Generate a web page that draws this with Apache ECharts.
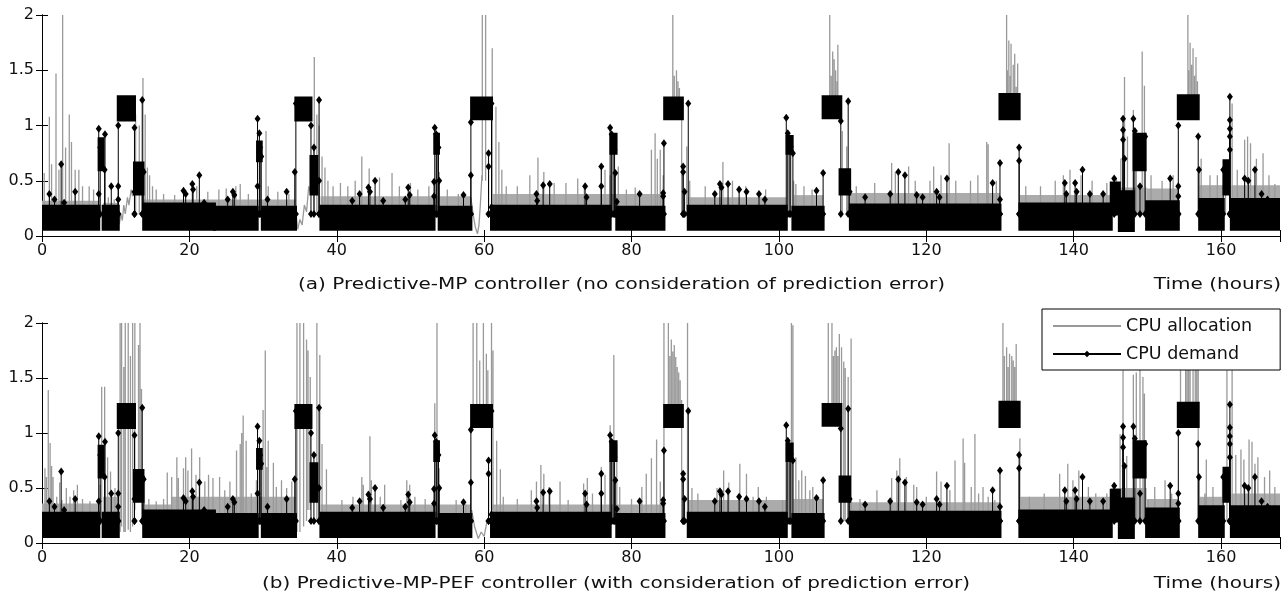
<!DOCTYPE html>
<html><head><meta charset="utf-8">
<script src="https://cdn.jsdelivr.net/npm/echarts@6/dist/echarts.min.js"></script>
<style>html,body{margin:0;padding:0;background:#fff}#c{width:1288px;height:599px}</style>
</head><body><div id="c"></div>
<script>
// ---------- DATA (time in hours, CPU in cores) ----------
const xTickValues = [0, 20, 40, 60, 80, 100, 120, 140, 160];
const yTickValues = [0, 0.5, 1, 1.5, 2];

// CPU demand: dense oscillation bands [start, end, low, high] (same in both panels)
const demandBands = [
  [0.0, 7.7, 0.06, 0.27], [7.75, 8.3, 0.6, 0.88], [8.3, 10.35, 0.06, 0.27],
  [10.35, 12.55, 1.05, 1.26], [12.55, 13.7, 0.38, 0.66], [13.8, 23.4, 0.06, 0.29],
  [23.4, 29.2, 0.06, 0.26], [29.25, 29.75, 0.68, 0.85], [29.9, 34.4, 0.06, 0.26],
  [34.45, 36.5, 1.05, 1.25], [36.5, 37.3, 0.38, 0.72], [37.85, 53.2, 0.06, 0.27],
  [53.3, 53.8, 0.75, 0.92], [53.9, 58.2, 0.06, 0.26], [58.3, 61.0, 1.06, 1.25],
  [61.0, 77.1, 0.06, 0.27], [77.2, 77.9, 0.75, 0.92], [78.0, 84.4, 0.06, 0.26],
  [84.5, 86.9, 1.06, 1.25], [87.7, 101.0, 0.06, 0.27], [101.1, 101.8, 0.75, 0.9],
  [101.9, 106.0, 0.06, 0.26], [106.0, 108.4, 1.07, 1.26], [108.3, 109.6, 0.38, 0.6],
  [109.7, 130.0, 0.06, 0.28], [130.0, 132.6, 1.06, 1.28], [132.7, 145.1, 0.06, 0.29],
  [145.1, 146.2, 0.2, 0.48], [146.2, 148.1, 0.05, 0.4], [148.2, 149.7, 0.6, 0.92],
  [149.9, 154.2, 0.06, 0.31], [154.2, 156.9, 1.06, 1.27], [157.1, 160.3, 0.06, 0.33],
  [160.4, 161.0, 0.38, 0.68], [161.4, 168.0, 0.06, 0.33]
];
// CPU demand: individual excursions [time, value]
const demandSpikes = [
  [1.0,0.38],[1.7,0.33],[2.6,0.65],[3.0,0.3],[4.5,0.40],[7.7,0.38],[7.7,0.97],[7.9,0.8],[8.55,0.92],[8.5,0.6],
  [9.4,0.45],[10.35,0.33],[10.35,0.45],[10.35,1.0],[12.55,0.98],[12.55,0.4],[13.6,1.23],[13.6,0.6],[13.8,0.58],
  [19.2,0.41],[19.5,0.38],[20.4,0.47],[20.5,0.42],[21.35,0.55],[22.0,0.3],[25.2,0.33],[25.9,0.40],[26.1,0.37],
  [29.25,1.06],[29.25,0.45],[29.5,0.93],[29.6,0.8],[29.75,0.72],[30.6,0.33],[33.2,0.40],[34.3,0.58],[34.45,1.2],
  [36.5,1.0],[36.9,0.8],[37.6,1.23],[37.6,0.5],
  [42.1,0.32],[43.1,0.38],[44.3,0.44],[44.5,0.4],[45.2,0.5],[46.3,0.32],[49.3,0.33],[49.7,0.44],[49.9,0.37],
  [53.2,0.36],[53.2,0.49],[53.3,0.98],[53.5,0.92],[53.6,0.84],[53.8,0.8],[53.9,0.5],
  [57.2,0.37],[58.2,0.55],[58.2,1.03],[60.6,0.75],[60.6,0.63],[61.0,1.2],[61.0,0.26],
  [67.1,0.38],[67.2,0.32],[68.0,0.46],[68.9,0.47],[73.7,0.45],[73.9,0.35],[75.9,0.63],[75.9,0.45],
  [77.1,0.98],[77.3,0.92],[77.5,0.85],[77.7,0.78],[77.8,0.57],[78.0,0.31],[81.1,0.38],
  [84.3,0.36],[84.3,0.39],[84.4,0.84],[87.0,0.63],[87.0,0.58],[87.2,0.4],[87.7,1.2],
  [91.3,0.38],[92.0,0.47],[92.2,0.44],[93.1,0.47],[94.6,0.42],[95.6,0.4],[97.3,0.38],[98.1,0.33],
  [101.0,1.07],[101.2,0.93],[101.4,0.88],[101.6,0.81],[101.9,0.75],
  [105.1,0.41],[106.0,0.57],[108.4,1.04],[109.4,1.22],[109.6,0.4],
  [111.7,0.35],[115.1,0.38],[116.2,0.58],[117.1,0.55],[118.7,0.37],[119.5,0.35],[121.4,0.4],[121.8,0.35],[122.8,0.52],
  [129.0,0.48],[130.0,0.66],[130.0,0.33],[132.6,0.8],[132.6,0.68],
  [138.8,0.48],[139.0,0.38],[140.2,0.48],[140.4,0.4],[141.2,0.6],[142.2,0.38],[144.0,0.38],
  [145.5,0.52],[146.7,1.06],[146.7,0.96],[146.7,0.87],[146.9,0.7],[148.1,1.06],[148.3,0.95],[149.0,0.45],[149.7,0.9],
  [153.1,0.52],[154.2,0.45],[154.2,0.36],[154.2,1.0],[156.9,0.9],[157.0,0.6],
  [160.3,0.6],[161.2,1.26],[161.2,1.05],[161.2,0.97],[161.2,0.9],[161.2,0.78],
  [163.2,0.52],[163.7,0.5],[164.6,0.6],[165.5,0.38],[166.3,0.33],[167.4,0.3]
];

// (a) CPU allocation, Predictive-MP
const allocStripsA = [
  [0,7.7,0.2,0.32],[8.3,10.3,0.2,0.3],[13.8,34.4,0.2,0.33],[37.8,58.2,0.2,0.36],[61.0,84.3,0.2,0.38],
  [87.7,101.0,0.2,0.35],[101.9,106.0,0.2,0.37],[109.7,130.0,0.2,0.39],[132.7,145.1,0.2,0.37],
  [145.1,149.9,0.2,0.44],[149.9,154.2,0.2,0.43],[157.1,160.3,0.2,0.46],[161.4,168,0.2,0.46]
];
const allocSpikesA = [
  [0.3,0.57],[1.0,1.08],[1.3,0.65],[1.9,1.47],[2.3,0.6],[2.8,2.0],[3.2,0.8],[3.7,1.1],[4.0,0.85],[4.5,0.6],
  [5.0,0.6],[5.5,0.45],[6.4,0.45],[7.0,0.42],[9.0,0.35],[9.8,0.33],
  [12.7,1.1],[13.2,1.0],[13.7,1.43],[14.0,1.1],[14.3,0.62],[14.6,0.55],[15.0,0.45],[15.5,0.42],[16.5,0.38],
  [18.0,0.37],[21.0,0.45],[22.5,0.4],[24.0,0.42],[25.0,0.43],[26.3,0.45],[26.9,0.47],[28.0,0.38],
  [30.4,0.95],[30.7,0.45],[32.0,0.4],[33.5,0.38],[36.95,1.62],[37.3,1.1],[37.6,1.0],[38.0,0.72],[38.4,0.62],[38.8,0.5],
  [39.5,0.45],[40.5,0.48],[41.5,0.45],[42.5,0.5],[43.4,0.72],[44.4,0.61],[45.8,0.53],[47.5,0.57],[48.5,0.45],
  [50.0,0.48],[51.0,0.42],[52.5,0.45],[53.6,0.75],[53.9,0.58],[55.0,0.42],[56.5,0.38],
  [59.75,2.0,0.5],[60.2,2.0,0.5],[61.1,1.7],[61.6,1.17],[62.0,0.85],[62.4,0.6],[63.0,0.45],[64.5,0.45],
  [66.2,0.55],[67.3,0.71],[68.1,0.58],[69.5,0.48],[71.1,0.48],[72.7,0.52],[73.6,0.45],[75.9,0.65],[76.4,0.6],
  [77.1,0.55],[78.2,0.63],[79.3,0.42],[80.5,0.44],
  [82.7,0.78],[83.2,0.93],[83.5,0.7],[83.9,0.78],[84.3,0.55],
  [85.6,2.0,1.1],[85.8,1.45,1.1],[86.1,1.5,1.1],[86.3,1.4,1.1],[86.5,1.34,1.1],[86.8,1.25],
  [87.5,0.81],[87.9,0.5],[90.0,0.45],[92.4,0.67],[93.7,0.5],[95.5,0.45],[98.2,0.42],[102.0,0.5],[102.3,0.47],
  [103.4,0.45],[104.5,0.42],
  [106.9,2.0,1.1],[107.1,1.45,1.1],[107.3,1.67,1.1],[107.5,1.6,1.1],[107.7,1.5,1.1],[107.9,1.4,1.1],[108.0,1.73,1.1],
  [108.6,0.95],[109.2,0.81],[110.5,0.45],
  [113.0,0.48],[115.3,0.66],[115.8,0.58],[117.6,0.63],[118.5,0.5],[120.5,0.5],[121.0,0.63],[122.0,0.55],
  [123.1,0.84],[124.0,0.5],[126.0,0.5],[127.0,0.55],[128.2,0.85],[128.4,0.83],[129.5,0.5],
  [130.9,2.0,1.1],[131.0,1.5,1.1],[131.2,1.77,1.1],[131.4,1.45,1.1],[131.5,1.74,1.1],[131.8,1.55,1.1],
  [132.0,1.65,1.1],[132.2,1.35,1.1],[132.4,1.56,1.1],[133.5,0.45],[135.5,0.45],
  [137.5,0.5],[138.6,0.55],[139.5,0.6],[141.0,0.55],[142.5,0.5],[144.5,0.48],[145.8,0.52],[146.4,0.7],
  [146.9,1.44],[147.3,0.9],[148.1,1.14],[148.5,0.9],[149.3,1.67],[149.6,1.36],[150.5,0.55],[152.0,0.5],[153.5,0.55],
  [155.5,2.0,1.1],[155.6,1.5,1.1],[155.8,1.75,1.1],[156.0,1.55,1.1],[156.2,1.7,1.1],[156.4,1.45,1.1],
  [156.6,1.62,1.1],[156.8,1.4,1.1],[157.3,0.7],[158.5,0.55],[159.5,0.55],
  [160.6,0.65],[161.5,1.2],[162.2,0.6],[163.2,0.87],[163.6,0.9],[164.0,0.84],[164.8,0.7],[165.7,0.75],
  [166.5,0.55],[167.3,0.47]
];
const allocPathsA = [
  [[10.3,0.3],[10.5,0.11],[10.7,0.2],[10.9,0.14],[11.1,0.28],[11.3,0.2],[11.6,0.35],[11.8,0.28],[12.1,0.42],[12.3,0.36],[12.5,0.45]],
  [[34.4,0.25],[34.7,0.06],[35.0,0.15],[35.3,0.1],[35.6,0.28],[35.9,0.22],[36.2,0.45],[36.5,0.38]],
  [[58.2,0.35],[58.5,0.2],[58.8,0.08],[59.1,0.02],[59.3,0.1],[59.5,0.3],[59.7,0.55]]
];

// (b) CPU allocation, Predictive-MP-PEF
const allocStripsB = [
  [0,7.7,0.2,0.36],[8.3,10.3,0.2,0.42],[13.8,17.5,0.2,0.35],[17.5,34.4,0.2,0.42],[37.8,58.2,0.2,0.35],
  [61.0,84.3,0.2,0.35],[87.7,101.0,0.2,0.39],[101.9,106.0,0.2,0.4],[109.7,130.0,0.2,0.37],
  [132.7,145.1,0.2,0.42],[145.1,149.9,0.2,0.5],[149.9,154.2,0.2,0.4],[157.1,160.3,0.2,0.42],[161.4,168,0.2,0.45]
];
const allocSpikesB = [
  [0.4,0.68],[0.6,0.6],[0.85,1.39],[1.1,0.91],[1.3,0.7],[1.5,0.6],[2.0,0.42],[2.4,0.55],[2.7,0.39],[3.3,0.5],
  [3.8,0.42],[4.3,0.48],[4.8,0.53],[5.5,0.4],[6.5,0.38],
  [7.9,0.53],[8.1,1.42],[8.5,1.42],[8.9,0.78],[9.3,0.65],[9.9,0.5],
  [10.6,2.0,0.1],[10.8,2.0,0.15],[11.1,1.6,0.1],[11.3,2.0,0.1],[11.7,2.0,0.12],[12.0,1.7,0.1],[12.3,2.0,0.15],
  [12.6,2.0,0.3],[13.1,1.8,0.4],[13.3,2.0,0.4],[13.5,1.4,0.4],[13.9,0.6],[14.5,0.4],[15.5,0.38],[16.5,0.4],
  [17.0,0.64],[17.6,0.6],[18.3,0.78],[18.5,0.59],[19.2,0.68],[19.5,0.78],[19.8,0.66],[20.3,0.86],[20.9,0.62],
  [21.4,0.78],[22.1,0.56],[22.6,0.62],[23.2,0.59],[24.1,0.6],[24.8,0.48],[25.5,0.56],[26.4,0.84],[26.9,0.9],
  [27.1,1.0],[27.3,1.16],[27.7,0.93],[28.4,0.45],[29.1,0.57],[30.0,1.21],[30.3,1.75],[30.5,0.69],[30.7,0.93],
  [31.4,0.73],[31.8,0.51],[32.5,0.57],[33.2,0.5],[33.9,0.56],
  [34.6,2.0,0.1],[35.0,2.0,0.1],[35.5,2.0,0.15],[35.9,1.85,0.2],[36.1,1.75,0.3],[36.4,1.51,0.3],
  [37.3,2.0],[37.7,1.71],[38.0,0.9],[38.6,0.67],[40.7,0.39],[42.2,0.42],[43.4,0.6],[43.6,0.53],[44.5,0.97],
  [44.7,0.57],[45.9,0.42],[46.5,0.53],[48.7,0.39],[49.5,0.57],[49.9,0.53],[50.6,0.42],[52.0,0.4],
  [53.3,1.27],[53.6,2.0],[53.9,0.68],[56.2,0.39],[57.5,0.35],
  [58.5,2.0,1.1],[59.0,2.0,1.1],[59.4,1.66,1.1],[59.9,2.0,1.1],[60.3,1.72,1.1],[60.5,1.57,1.1],[61.0,2.0,0.3],[61.2,1.75,0.3],
  [61.7,0.93],[62.2,0.67],[62.6,0.42],[64.5,0.4],[66.4,0.48],[67.1,0.56],[67.7,0.71],[68.1,0.63],[68.8,0.51],
  [70.3,0.56],[71.4,0.39],[73.5,0.54],[74.0,0.59],[74.7,0.45],[75.9,0.69],[76.4,0.62],[77.1,1.07],[77.6,1.71],
  [78.0,0.9],[78.4,0.51],[80.0,0.4],[81.1,0.39],
  [81.4,0.51],[82.0,0.63],[82.7,0.77],[83.4,0.94],[83.9,0.56],[84.4,2.0],[85.0,2.0,1.1],[85.2,1.7,1.1],[85.4,1.85,1.1],
  [85.6,1.74,1.1],[85.8,1.8,1.1],[86.0,1.69,1.1],[86.2,1.6,1.1],[86.4,1.55,1.1],[86.6,1.48,1.1],[86.8,1.3],[87.6,2.0],
  [88.2,0.5],[89.0,0.45],
  [91.6,0.5],[92.5,0.66],[93.2,0.55],[94.7,0.72],[95.6,0.63],[96.5,0.42],[97.2,0.51],[98.3,0.42],[100.5,0.39],
  [101.7,2.0],[101.9,1.98],[102.3,0.78],[102.7,0.57],[103.1,0.66],[103.6,0.61],[104.2,0.48],[104.6,0.51],
  [106.7,2.0,1.1],[107.2,2.0,1.1],[107.4,1.7,1.1],[107.6,1.75,1.1],[107.8,1.78,1.1],[108.0,1.7,1.1],[108.2,1.9,1.1],
  [108.5,1.78],[108.8,1.65],[109.0,1.59],[109.4,1.51],[109.8,1.86],
  [111.0,0.4],[113.3,0.48],[115.3,0.59],[116.0,0.66],[116.4,0.77],[117.3,0.6],[118.3,0.53],[118.7,0.51],
  [120.0,0.42],[121.4,0.65],[122.0,0.56],[123.2,0.48],[123.9,0.75],[125.0,0.95],[125.2,0.73],
  [126.1,0.51],[126.6,0.99],[127.1,0.45],[127.7,0.51],[128.4,0.42],[129.3,0.39],
  [130.4,2.0,1.1],[130.6,1.7,1.1],[130.9,1.78,1.1],[131.1,1.6,1.1],[131.3,1.72,1.1],[131.6,1.7,1.1],[131.8,1.66,1.1],
  [132.0,1.6,1.1],[132.2,1.81,1.1],[132.7,0.95],
  [134.0,0.42],[136.0,0.45],[138.1,0.63],[139.2,0.72],[139.9,0.57],[140.7,0.66],[142.0,0.51],[143.0,0.45],[144.5,0.45],
  [145.6,0.39],[146.3,0.99],[146.7,1.57],[147.2,0.79],[148.1,1.53],[148.5,1.55],[149.0,1.6],[149.4,1.51],[149.6,1.36],[150.1,0.39],
  [151.0,0.51],[152.4,0.57],[153.3,0.45],
  [154.5,2.0,1.1],[155.2,1.8,1.1],[155.4,2.0,1.1],[155.6,1.75,1.1],[155.8,1.9,1.1],[156.2,1.7,1.1],[156.5,1.85,1.1],
  [156.7,1.65,1.1],[156.9,1.6],
  [157.8,0.45],[158.0,0.76],[158.9,0.51],[160.2,0.63],[160.8,1.57],[161.5,1.95],[162.0,0.8],[162.7,0.85],
  [163.1,0.76],[163.8,0.94],[164.2,0.92],[164.6,0.72],[165.0,0.78],[165.9,0.6],[166.6,0.66],[167.3,0.51]
];
const allocPathsB = [
  [[58.3,0.3],[58.7,0.15],[59.2,0.04],[59.6,0.1],[60.0,0.06],[60.4,0.2]]
];

// ---------- BUILD ----------
const GRAY = '#999999';
const STRIP = '#ababab';
const FONT = 'DejaVu Sans';

function spikeData(spikes, defBase) {
  const out = [];
  spikes.forEach(s => {
    const b = s.length > 2 ? s[2] : defBase;
    out.push([s[0], b], [s[0], s[1]], [s[0], '-']);
  });
  return out;
}
function pathData(paths) {
  const out = [];
  paths.forEach(p => { p.forEach(pt => out.push(pt)); out.push([p[p.length - 1][0], '-']); });
  return out;
}
function rectSeries(data, color, ai, z, sw) {
  return {
    type: 'custom', xAxisIndex: ai, yAxisIndex: ai, z: z, silent: true, clip: true,
    encode: { x: [0, 1], y: [2, 3] },
    data: data,
    renderItem: function (params, api) {
      const p0 = api.coord([api.value(0), api.value(3)]);
      const p1 = api.coord([api.value(1), api.value(2)]);
      return { type: 'rect', shape: { x: p0[0], y: p0[1], width: p1[0] - p0[0], height: p1[1] - p0[1] },
               style: { fill: color, stroke: color, lineWidth: sw } };
    }
  };
}
function panelSeries(ai, strips, spikes, paths) {
  return [
    rectSeries(strips, STRIP, ai, 1, 0),
    { type: 'line', name: 'CPU allocation', xAxisIndex: ai, yAxisIndex: ai, z: 2, data: spikeData(spikes, 0.2),
      symbol: 'none', connectNulls: false, lineStyle: { color: GRAY, width: 1.3 }, itemStyle: { color: GRAY }, silent: true },
    { type: 'line', name: 'alloc-gap', xAxisIndex: ai, yAxisIndex: ai, z: 2, data: pathData(paths),
      symbol: 'none', connectNulls: false, lineStyle: { color: GRAY, width: 1.3 }, silent: true },
    rectSeries(demandBands, '#000', ai, 3, 3),
    { type: 'line', name: 'CPU demand', xAxisIndex: ai, yAxisIndex: ai, z: 4, data: spikeData(demandSpikes, 0.2),
      symbol: 'diamond', symbolSize: [6, 8], connectNulls: false,
      lineStyle: { color: '#000', width: 1 }, itemStyle: { color: '#000' }, silent: true }
  ];
}

const axisLineStyle = { show: true, lineStyle: { color: '#000', width: 1 } };
function xAxes(gi) {
  return [
    { gridIndex: gi, type: 'value', min: 0, max: 168, interval: 20, position: 'bottom',
      axisLine: axisLineStyle, axisTick: { show: true, inside: true, length: 6, lineStyle: { color: '#000' } },
      axisLabel: { show: true, margin: 7, color: '#111', fontSize: 16, fontFamily: FONT,
        formatter: v => (xTickValues.indexOf(v) >= 0 ? String(v) : '') },
      splitLine: { show: false } },
    { gridIndex: gi, type: 'value', min: 0, max: 168, interval: 20, position: 'top',
      axisLine: axisLineStyle, axisTick: { show: true, inside: true, length: 6, lineStyle: { color: '#000' } },
      axisLabel: { show: false }, splitLine: { show: false } }
  ];
}
function yAxes(gi) {
  return [
    { gridIndex: gi, type: 'value', min: 0, max: 2, interval: 0.5, position: 'left',
      axisLine: axisLineStyle, axisTick: { show: true, inside: true, length: 6, lineStyle: { color: '#000' } },
      axisLabel: { show: true, margin: 8, color: '#111', fontSize: 16, fontFamily: FONT,
        formatter: v => (yTickValues.indexOf(v) >= 0 ? String(v) : '') },
      splitLine: { show: false } },
    { gridIndex: gi, type: 'value', min: 0, max: 2, interval: 0.5, position: 'right',
      axisLine: axisLineStyle, axisTick: { show: true, inside: true, length: 6, lineStyle: { color: '#000' } },
      axisLabel: { show: false }, splitLine: { show: false } }
  ];
}
function label(text, x, y, align) {
  return { type: 'text', x: x, y: y, scaleX: 1.25, z: 10,
    style: { text: text, fontSize: 16, fontFamily: FONT, fill: '#111', textAlign: align,
             textVerticalAlign: 'middle', verticalAlign: 'middle' } };
}

const chart = echarts.init(document.getElementById('c'), null, { renderer: 'canvas' });
chart.setOption({
  animation: false,
  backgroundColor: '#fff',
  grid: [
    { left: 42, top: 15, width: 1238, height: 221, containLabel: false },
    { left: 42, top: 323, width: 1238, height: 220, containLabel: false }
  ],
  xAxis: [].concat(xAxes(0), xAxes(1)),
  yAxis: [].concat(yAxes(0), yAxes(1)),
  legend: {
    data: [{ name: 'CPU allocation', itemStyle: { opacity: 0 } }, 'CPU demand'],
    orient: 'vertical', left: 1042, top: 309,
    backgroundColor: '#fff', borderColor: '#000', borderWidth: 1, padding: [8, 28, 7, 10],
    itemWidth: 68, itemHeight: 8, itemGap: 10, selectedMode: false, z: 20,
    textStyle: { fontSize: 17.5, fontFamily: FONT, color: '#111' }
  },
  graphic: [
    label('(a) Predictive-MP controller (no consideration of prediction error)', 298, 285, 'left'),
    label('Time (hours)', 1281, 285, 'right'),
    label('(b) Predictive-MP-PEF controller (with consideration of prediction error)', 262, 584, 'left'),
    label('Time (hours)', 1281, 584, 'right')
  ],
  series: [].concat(
    panelSeries(0, allocStripsA, allocSpikesA, allocPathsA),
    panelSeries(2, allocStripsB, allocSpikesB, allocPathsB)
  )
});
</script>
</body></html>
